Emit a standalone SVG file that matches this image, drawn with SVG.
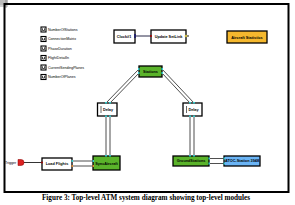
<svg xmlns="http://www.w3.org/2000/svg" width="295" height="205" viewBox="0 0 295 205">
<style>
.lbl{font-family:"Liberation Sans",Arial,sans-serif;font-size:3.6px;fill:#000}
.nl{font-family:"Liberation Sans",Arial,sans-serif;font-size:3.8px;font-weight:bold;fill:#000;text-anchor:middle}
.box{stroke:#000;stroke-width:1.3}
.cb{fill:#fff;stroke:#000;stroke-width:1.1}
.cm{fill:none;stroke:#000;stroke-width:0.7}
.dl{fill:none;stroke:#222;stroke-width:0.8}
.port{fill:#3cc;stroke:none}
</style>
<rect width="295" height="205" fill="#fff"/>
<g id="corner"><rect x="0" y="0" width="8" height="5" fill="#bbb"/><path d="M0 6H8M6 0V8" stroke="#666" stroke-width="0.6"/></g>
<rect x="4.5" y="4" width="284" height="188" fill="none" stroke="#000" stroke-width="2"/>
<g id="params">
<rect class="cb" x="41" y="27" width="5" height="5"/><path class="cm" d="M42.5 28.3v2.2h2v-2.2"/><text class="lbl" x="48" y="30.5">NumberOfStations</text>
<rect class="cb" x="41" y="36.5" width="5" height="5"/><path class="cm" d="M42.5 37.8v2.2h2v-2.2"/><text class="lbl" x="48" y="40">ConnectionMatrix</text>
<rect class="cb" x="41" y="46" width="5" height="5"/><path class="cm" d="M42.5 47.3v2.2h2v-2.2"/><text class="lbl" x="48" y="49.5">PhaseDuration</text>
<rect class="cb" x="41" y="55.5" width="5" height="5"/><path class="cm" d="M42.5 56.8v2.2h2v-2.2"/><text class="lbl" x="48" y="59">FlightDetailIn</text>
<rect class="cb" x="41" y="65" width="5" height="5"/><path class="cm" d="M42.5 66.3v2.2h2v-2.2"/><text class="lbl" x="48" y="68.5">CurrentSendingPlanes</text>
<rect class="cb" x="41" y="74.5" width="5" height="5"/><path class="cm" d="M42.5 75.8v2.2h2v-2.2"/><text class="lbl" x="48" y="78">NumberOfPlanes</text>
</g>
<g id="connectors">
<line x1="135" y1="36" x2="151" y2="36" stroke="#113" stroke-width="0.9"/>
<line x1="139" y1="69" x2="106" y2="103" class="dl"/>
<line x1="139" y1="73" x2="110" y2="103" class="dl"/>
<line x1="162" y1="69" x2="194" y2="103" class="dl"/>
<line x1="162" y1="73" x2="190" y2="103" class="dl"/>
<line x1="106" y1="116" x2="106" y2="156" class="dl" stroke-width="1.2"/>
<line x1="110" y1="116" x2="110" y2="156" class="dl" stroke-width="1.2"/>
<line x1="190" y1="116" x2="190" y2="156" class="dl" stroke-width="1.2"/>
<line x1="194" y1="116" x2="194" y2="156" class="dl" stroke-width="1.2"/>
<line x1="72" y1="161" x2="93" y2="161" class="dl" stroke-width="1.2"/>
<line x1="72" y1="166" x2="93" y2="166" class="dl" stroke-width="1.2"/>
<line x1="209" y1="158.5" x2="224" y2="158.5" class="dl" stroke-width="1.2"/>
<line x1="209" y1="163.5" x2="224" y2="163.5" class="dl" stroke-width="1.2"/>
<line x1="23" y1="162.5" x2="42" y2="162.5" stroke="#000" stroke-width="0.8"/>
</g>
<g id="clock"><rect class="box" x="114" y="30" width="21" height="13" fill="#fff"/><text class="nl" x="124" y="37.5">Clock#1</text><rect x="134" y="34" width="2" height="4" fill="#226"/></g>
<g id="update"><rect class="box" x="151" y="30" width="35" height="13" fill="#fff"/><text class="nl" x="168.5" y="37.5">Update SetLink</text><circle cx="151" cy="36" r="1" fill="#a00"/><circle cx="186" cy="36" r="1.3" fill="#cb4"/><path d="M187 36h2M188 35v2" stroke="#000" stroke-width="0.5"/></g>
<g id="aircraftstats"><rect class="box" x="227" y="31" width="40" height="12" fill="#f5b82e"/><text class="nl" x="247" y="38.5">Aircraft Statistics</text></g>
<g id="stations"><rect class="box" x="139" y="66" width="23" height="11" fill="#5ab32a"/><text class="nl" x="150.5" y="72.8">Stations</text><rect class="port" x="138" y="68" width="1.5" height="2"/><rect class="port" x="138" y="72" width="1.5" height="2"/><rect class="port" x="161.5" y="68" width="1.5" height="2"/><rect class="port" x="161.5" y="72" width="1.5" height="2"/></g>
<g id="delay1"><rect class="box" x="97.5" y="103" width="19.5" height="13" fill="#fff"/><line x1="101" y1="106" x2="101" y2="113" stroke="#000" stroke-width="0.6"/><text class="nl" x="108" y="110.5">Delay</text><rect class="port" x="105" y="102" width="2" height="1.5"/><rect class="port" x="109" y="102" width="2" height="1.5"/><rect class="port" x="105" y="115.5" width="2" height="1.5"/><rect class="port" x="109" y="115.5" width="2" height="1.5"/></g>
<g id="delay2"><rect class="box" x="183" y="103" width="19" height="13" fill="#fff"/><line x1="186.5" y1="106" x2="186.5" y2="113" stroke="#000" stroke-width="0.6"/><text class="nl" x="193.5" y="110.5">Delay</text><rect class="port" x="189" y="102" width="2" height="1.5"/><rect class="port" x="193" y="102" width="2" height="1.5"/><rect class="port" x="189" y="115.5" width="2" height="1.5"/><rect class="port" x="193" y="115.5" width="2" height="1.5"/></g>
<g id="trigger"><text class="lbl" x="5" y="164">Trigger</text><path d="M18 159.5h3a3 3 0 0 1 0 6h-3z" fill="#d22" stroke="#800" stroke-width="0.5"/></g>
<g id="loadflights"><rect class="box" x="42" y="158" width="30" height="12" fill="#fff"/><text class="nl" x="57" y="165">Load Flights</text><circle cx="42" cy="162.5" r="0.9" fill="#a00"/><rect class="port" x="71.5" y="160" width="1.5" height="2"/><rect x="71.5" y="165" width="1.5" height="2" fill="#d83"/></g>
<g id="sync"><rect class="box" x="93" y="156" width="27" height="14" fill="#5ab32a"/><text class="nl" x="106.5" y="164.5">SyncAircraft</text><rect class="port" x="92.5" y="160" width="1.5" height="2"/><rect x="92.5" y="165" width="1.5" height="2" fill="#d83"/><rect class="port" x="105" y="155" width="2" height="1.5"/><rect class="port" x="109" y="155" width="2" height="1.5"/></g>
<g id="ground"><rect class="box" x="173" y="156" width="36" height="10" fill="#5ab32a"/><text class="nl" x="191" y="162.3">GroundStations</text><rect class="port" x="189" y="155" width="2" height="1.5"/><rect class="port" x="193" y="155" width="2" height="1.5"/><rect class="port" x="208.5" y="157.5" width="1.5" height="2"/><rect class="port" x="208.5" y="162.5" width="1.5" height="2"/></g>
<g id="atoc"><rect class="box" x="224" y="156" width="36" height="10" fill="#6ab4f5"/><text class="nl" x="242" y="162.3">ATOC-Station 3948</text><rect class="port" x="223.5" y="157.5" width="1.5" height="2"/><rect class="port" x="223.5" y="162.5" width="1.5" height="2"/></g>
<text x="146" y="200" font-family="'Liberation Serif','Times New Roman',serif" font-size="7.2" font-weight="bold" text-anchor="middle">Figure 3: Top-level ATM system diagram showing top-level modules</text>
</svg>
